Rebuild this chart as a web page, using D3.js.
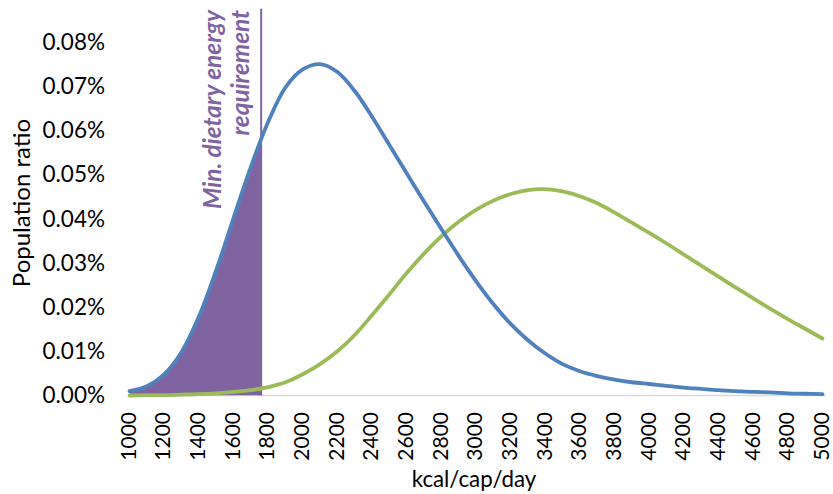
<!DOCTYPE html>
<html><head><meta charset="utf-8">
<script src="https://cdn.jsdelivr.net/npm/d3@7"></script>
<style>
body{margin:0;background:#fff;}
svg{display:block;}
text{font-family:Lato,"Open Sans",sans-serif;fill:#000;}
</style></head>
<body>
<svg id="chart" width="833" height="494"></svg>
<script>
const kcal = [1000,1100,1200,1300,1400,1500,1600,1700,1800,1900,2000,2100,2200,2300,2400,2500,2600,2700,2800,2900,3000,3100,3200,3300,3400,3500,3600,3700,3800,3900,4000,4100,4200,4300,4400,4500,4600,4700,4800,4900,5000];
// population ratio, in percent
const seriesBlue = [0.0010,0.0021,0.0048,0.0098,0.0178,0.0283,0.0401,0.0517,0.0619,0.0697,0.0738,0.0750,0.0732,0.0689,0.0631,0.0567,0.0503,0.0439,0.0377,0.0316,0.0259,0.0207,0.0162,0.0125,0.0095,0.0071,0.0055,0.0044,0.0036,0.0030,0.0026,0.0022,0.0018,0.0015,0.0012,0.0010,0.0008,0.0007,0.0005,0.0004,0.0003];
const seriesGreen = [0.0000,0.0001,0.0001,0.0002,0.0003,0.0005,0.0008,0.0012,0.0019,0.0030,0.0048,0.0071,0.0100,0.0137,0.0182,0.0229,0.0277,0.0321,0.0360,0.0393,0.0420,0.0441,0.0456,0.0465,0.0467,0.0462,0.0451,0.0435,0.0414,0.0391,0.0368,0.0344,0.0319,0.0294,0.0269,0.0244,0.0220,0.0196,0.0173,0.0151,0.0129];
const xTicks = [1000,1200,1400,1600,1800,2000,2200,2400,2600,2800,3000,3200,3400,3600,3800,4000,4200,4400,4600,4800,5000];
const yTicks = [0,0.01,0.02,0.03,0.04,0.05,0.06,0.07,0.08];
const minRequirement = 1760;
const annotationLines = ["Min. dietary energy","requirement"];
const xTitle = "kcal/cap/day";
const yTitle = "Population ratio";

const svg = d3.select("#chart");
const x = d3.scaleLinear().domain([1000,5000]).range([129.5,822.5]);
const y = d3.scaleLinear().domain([0,0.08]).range([395.5,42]);

const blue = kcal.map((k,i)=>({k, v:seriesBlue[i]}));
const green = kcal.map((k,i)=>({k, v:seriesGreen[i]}));

// baseline
svg.append("line").attr("x1",x(1000)-1.5).attr("x2",x(5000)+3).attr("y1",y(0)).attr("y2",y(0))
  .attr("stroke","#d9d9d9").attr("stroke-width",1.3);

// y tick labels
svg.append("g").selectAll("text").data(yTicks).join("text")
  .attr("x",105).attr("y",d=>y(d)).attr("dy","0.35em").attr("text-anchor","end")
  .style("font-size","22.5px").text(d=>d.toFixed(2)+"%");

// x tick labels
svg.append("g").selectAll("text").data(xTicks).join("text")
  .attr("transform",d=>`translate(${x(d)},412) rotate(-90)`)
  .attr("dy","0.3em").attr("text-anchor","end")
  .style("font-size","21px").text(d=>d);

// titles
svg.append("text").attr("x",474).attr("y",487).attr("text-anchor","middle")
  .style("font-size","22.3px").text(xTitle);
svg.append("text").attr("transform","translate(30,203) rotate(-90)").attr("text-anchor","middle")
  .style("font-size","24px").text(yTitle);

// clip for shaded area
svg.append("clipPath").attr("id","clipReq").append("rect")
  .attr("x",x(1000)).attr("y",0).attr("width",x(minRequirement)-x(1000)).attr("height",y(0));

const curve = d3.curveCatmullRom.alpha(0.5);
const area = d3.area().x(d=>x(d.k)).y0(y(0)).y1(d=>y(d.v)).curve(curve);
svg.append("path").datum(blue).attr("d",area).attr("fill","#8064A2").attr("clip-path","url(#clipReq)");

// vertical requirement line
svg.append("line").attr("x1",x(minRequirement)).attr("x2",x(minRequirement))
  .attr("y1",y(0)).attr("y2",y(0.0875)).attr("stroke","#8064A2").attr("stroke-width",2);

const line = d3.line().x(d=>x(d.k)).y(d=>y(d.v)).curve(curve);
svg.append("path").datum(green).attr("d",line).attr("fill","none").attr("stroke","#9BBB59").attr("stroke-width",3.8).attr("stroke-linecap","round");
svg.append("path").datum(blue).attr("d",line).attr("fill","none").attr("stroke","#4F81BD").attr("stroke-width",3.8).attr("stroke-linecap","round");

// annotation
svg.append("g").selectAll("text").data(annotationLines).join("text")
  .attr("transform",(d,i)=>`translate(${x(minRequirement)-40+i*28},10) rotate(-90)`)
  .attr("text-anchor","end")
  .style("font-size","24.4px").style("font-weight","bold").style("font-style","italic")
  .style("fill","#8064A2").text(d=>d);
</script>
</body></html>
